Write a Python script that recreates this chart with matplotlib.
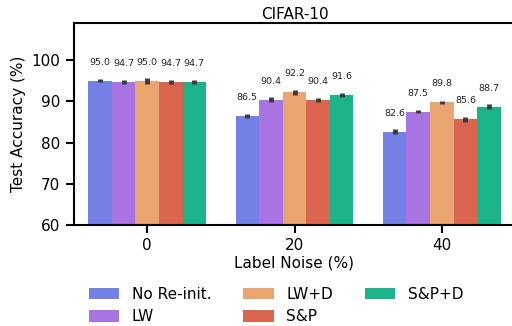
import matplotlib
matplotlib.use("Agg")
import matplotlib.pyplot as plt
import numpy as np

noise_levels = ["0", "20", "40"]
methods = ["No Re-init.", "LW", "LW+D", "S&P", "S&P+D"]
acc_noreinit = [95.0, 86.5, 82.6]
acc_lw = [94.7, 90.4, 87.5]
acc_lwd = [95.0, 92.2, 89.8]
acc_sp = [94.7, 90.4, 85.6]
acc_spd = [94.7, 91.6, 88.7]
err_noreinit = [0.35, 0.45, 0.6]
err_lw = [0.55, 0.55, 0.4]
err_lwd = [0.7, 0.6, 0.35]
err_sp = [0.45, 0.5, 0.6]
err_spd = [0.4, 0.5, 0.55]

values = [acc_noreinit, acc_lw, acc_lwd, acc_sp, acc_spd]
errors = [err_noreinit, err_lw, err_lwd, err_sp, err_spd]
colors = ["#7580e6", "#a874e2", "#eaa46f", "#d9654f", "#1ab38a"]

fig = plt.figure(figsize=(5.12, 3.26), dpi=100)
ax = fig.add_axes([73.5 / 512, 1 - 225 / 326, 442 / 512, 202 / 326])
ax.patch.set_edgecolor("none")

x = np.arange(len(noise_levels))
n = len(methods)
w = 0.8 / n
handles = []
for i, (m, v, e, c) in enumerate(zip(methods, values, errors, colors)):
    pos = x - 0.4 + w * (i + 0.5)
    b = ax.bar(pos, v, width=w, color=c, label=m, zorder=2)
    ax.errorbar(pos, v, yerr=e, fmt="none", ecolor="#3c3c3c", elinewidth=3.5, capsize=0, zorder=3)
    for p, val in zip(pos, v):
        ax.text(p, val + 4.5, f"{val:.1f}", ha="center", va="center", fontsize=6.8, color="#222222")
    handles.append(b)

ax.set_xlim(-0.5, 2.5)
ax.set_ylim(60, 109)
ax.set_yticks([60, 70, 80, 90, 100])
ax.set_xticks(x)
ax.set_xticklabels(noise_levels)
ax.tick_params(axis="both", labelsize=11, length=6, width=1.5)
for s in ax.spines.values():
    s.set_linewidth(1.5)
ax.spines["right"].set_visible(False)
ax.set_xlabel("Label Noise (%)", fontsize=11, labelpad=2)
ax.set_ylabel("Test Accuracy (%)", fontsize=11)
ax.set_title("CIFAR-10", fontsize=11, pad=3)

fig.legend(handles=handles, labels=methods, loc="center", ncol=3, frameon=False,
           fontsize=11, bbox_to_anchor=(276 / 512, 1 - 305.5 / 326),
           handlelength=2.0, handleheight=0.75, handletextpad=0.8, columnspacing=2.1,
           labelspacing=0.5)

fig.savefig("out.png", dpi=100)
